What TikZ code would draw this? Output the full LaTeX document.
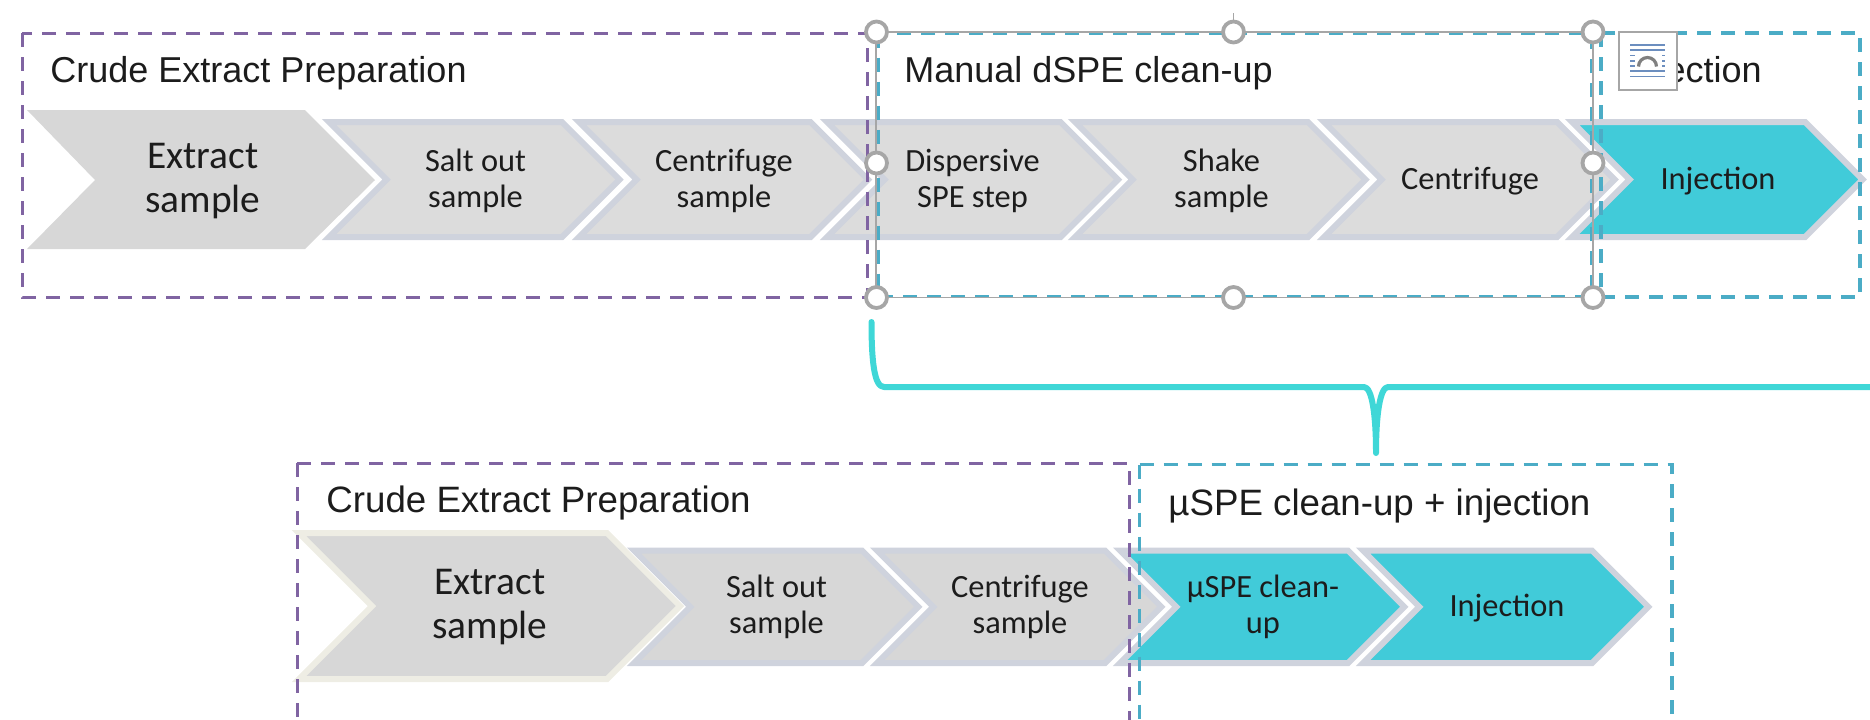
\documentclass[tikz,border=0pt]{standalone}
\usepackage{fontspec}
\setmainfont{Carlito}
\newfontfamily\titlefont{Liberation Sans}
\definecolor{chevgray}{HTML}{DCDCDC}
\definecolor{chevdark}{HTML}{D7D7D7}
\definecolor{chevline}{HTML}{CFD3DD}
\definecolor{creamline}{HTML}{EEEDE4}
\definecolor{tealfill}{HTML}{41CBD9}
\definecolor{purpledash}{HTML}{8064A2}
\definecolor{bluedash}{HTML}{4BACC6}
\definecolor{bracecol}{HTML}{3FD7D7}
\definecolor{selgray}{HTML}{A6A6A6}
\definecolor{inkcol}{HTML}{1C1C1C}
\definecolor{iconblue}{HTML}{6C8EBF}
\tikzset{
  chevshape/.style={line width=3pt,miter limit=10},
  grayche/.style={chevshape,fill=chevgray,draw=chevline},
  tealche/.style={chevshape,fill=tealfill,draw=chevline},
  boxpurple/.style={draw=purpledash,line width=1.5pt,dash pattern=on 7pt off 5pt},
  boxblue/.style={draw=bluedash,line width=1.55pt,dash pattern=on 7pt off 5pt},
  titletext/.style={font=\titlefont\fontsize{18}{21}\selectfont,text=inkcol,inner sep=0pt,anchor=base west},
  smalltext/.style={font=\fontsize{16.2}{17.7}\selectfont,text=inkcol,align=center,inner sep=0pt},
  bigtext/.style={font=\fontsize{19.7}{21.6}\selectfont,text=inkcol,align=center,inner sep=0pt},
  handlenode/.style={circle,draw=selgray,fill=white,line width=1.9pt,minimum size=10.5pt,inner sep=0pt},
  selline/.style={draw=selgray,line width=0.8pt},
  iconline/.style={draw=iconblue,line width=0.8pt},
  icondash/.style={draw=iconblue,line width=0.8pt,dash pattern=on 2.5pt off 1.5pt},
}
% #1 style, #2 left x, #3 right x, #4 top y, #5 bottom y
\newcommand{\chevron}[5]{%
  \pgfmathsetmacro{\chevhalf}{(#5-#4)/2}%
  \pgfmathsetmacro{\chevmid}{(#5+#4)/2}%
  \draw[#1] (#2,#4) -- (#3,#4) -- ({#3+\chevhalf},\chevmid) -- (#3,#5) -- (#2,#5) -- ({#2+\chevhalf},\chevmid) -- cycle;%
}
\begin{document}
\begin{tikzpicture}[x=0.5pt,y=-0.5pt]
\path[use as bounding box] (0,0) rectangle (1870,719);
\begin{scope}
\clip (0,0) rectangle (1870,719);
% --- top row chevrons
\fill[chevdark] (27,110) -- (305,110) -- (375,180) -- (305,249) -- (27,249) -- (95,180) -- cycle;
\chevron{grayche}{329}{562}{122}{237}
\chevron{grayche}{579}{810.5}{122}{237}
\chevron{grayche}{827}{1060.5}{122}{237}
\chevron{grayche}{1075}{1308}{122}{237}
\chevron{grayche}{1324}{1557}{122}{237}
\chevron{tealche}{1572}{1805}{122}{237}
% --- bottom row chevrons
\chevron{grayche,fill=chevdark}{634}{862}{550.5}{663}
\chevron{grayche,fill=chevdark}{877}{1105}{550.5}{663}
\chevron{tealche}{1120}{1348}{550.5}{663}
\chevron{tealche}{1363}{1592}{550.5}{663}
\chevron{grayche,fill=chevdark,draw=creamline}{299}{607}{533}{679}
% --- dashed boxes
\draw[boxpurple] (22,33) rectangle (867,297);
\draw[boxblue] (878,33.5) rectangle (1591.5,296.5);
\draw[boxblue] (1601,33) rectangle (1860,297);
\draw[boxpurple] (297,463) -- (1129,463) -- (1129,725);
\draw[boxpurple] (297,463) -- (297,725);
\draw[boxblue] (1139.5,464.5) -- (1672,464.5) -- (1672,725);
\draw[boxblue] (1139.5,464.5) -- (1139.5,725);
% --- brace
\coordinate (braceA) at (871.5,322);
\coordinate (braceB) at (884,387);
\coordinate (braceC) at (1364,387);
\coordinate (braceTip) at (1376,453);
\coordinate (braceD) at (1388,387);
\coordinate (braceE) at (1875,387);
\draw[bracecol,line width=3pt,line cap=round,line join=round]
  (braceA) .. controls (871.5,360) and (874,387) .. (braceB) -- (braceC)
  .. controls (1372,387) and (1376,415) .. (braceTip)
  .. controls (1376,415) and (1380,387) .. (braceD) -- (braceE);
\end{scope}
% --- titles
\node[titletext] (t1) at (50,82) {Crude Extract Preparation};
\node[titletext] (t2) at (904,82) {Manual dSPE clean-up};
\node[titletext,anchor=base east] (t3) at (1762,82) {Injection};
\node[titletext,font=\titlefont\fontsize{18.35}{21}\selectfont] (t4) at (326,512) {Crude Extract Preparation};
\node[titletext,font=\titlefont\fontsize{18.35}{21}\selectfont] (t5) at (1168,515) {µSPE clean-up + injection};
% --- chevron labels
\node[bigtext] (a1) at (203,181) {Extract\\sample};
\node[smalltext] (a2) at (475.5,181) {Salt out\\sample};
\node[smalltext] (a3) at (724,181) {Centrifuge\\sample};
\node[smalltext] (a4) at (972.5,181) {Dispersive\\SPE step};
\node[smalltext] (a5) at (1221.5,181) {Shake\\sample};
\node[smalltext,anchor=base] (a6) at (1470,189) {Centrifuge};
\node[smalltext,anchor=base] (a7) at (1718,189) {Injection};
\node[bigtext] (b1) at (490,607) {Extract\\sample};
\node[smalltext] (b2) at (776.5,607) {Salt out\\sample};
\node[smalltext] (b3) at (1020,607) {Centrifuge\\sample};
\node[smalltext] (b4) at (1263,607) {µSPE clean-\\up};
\node[smalltext,anchor=base] (b5) at (1507,616) {Injection};
% --- selection frame
\coordinate (selTL) at (876,32);
\coordinate (selBR) at (1593,297.5);
\draw[selline] (selTL) rectangle (selBR);
\coordinate (rotTop) at (1233.5,13);
\node[handlenode] (hTM) at (1233.5,32) {};
\draw[selline] (rotTop) -- (hTM.north);
\node[handlenode] (hTL) at (876.5,32) {};
\node[handlenode] (hTR) at (1593,32) {};
\node[handlenode] (hML) at (876.5,163) {};
\node[handlenode] (hMR) at (1593,163) {};
\node[handlenode] (hBL) at (876.5,297.5) {};
\node[handlenode] (hBM) at (1233.5,297.5) {};
\node[handlenode] (hBR) at (1593,297.5) {};
% --- layout options icon
\draw[draw=selgray,fill=white,line width=0.8pt] (1619,32) rectangle (1677,90);
\draw[iconline] (1630,45) -- (1665,45);
\draw[iconline] (1630,50) -- (1665,50);
\draw[icondash] (1630,55.5) -- (1665,55.5);
\draw[icondash] (1630,61) -- (1665,61);
\draw[icondash] (1630,66) -- (1665,66);
\draw[iconline] (1630,71) -- (1665,71);
\draw[iconline] (1630,76.5) -- (1665,76.5);
\fill[white] (1636,52) rectangle (1659,67.5);
\draw[draw=gray,line width=1.6pt] (1638.5,66.5) arc[start angle=180,end angle=360,radius=9];
\end{tikzpicture}
\end{document}
